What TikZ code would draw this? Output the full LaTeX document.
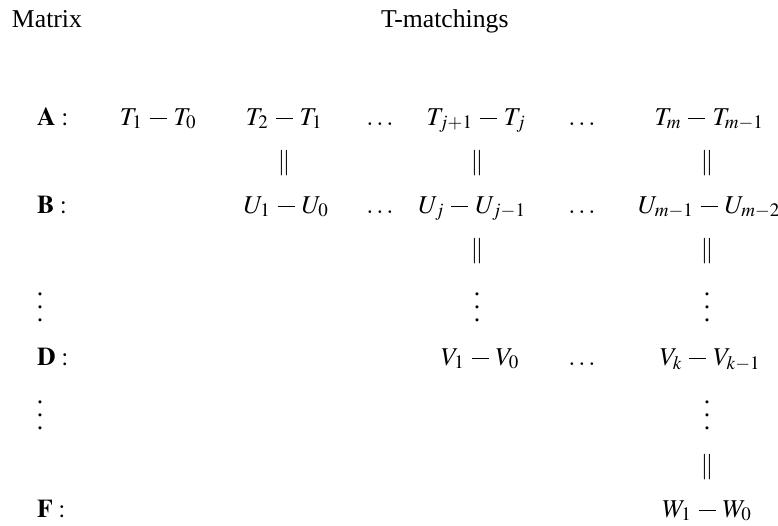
\documentclass[tikz,border=0pt]{standalone}
\usepackage{mathptmx}
\usepackage[no-math]{fontspec}
\setmainfont{Liberation Serif}
\medmuskip=5mu plus 2mu minus 4mu
\newcommand{\mn}{\mathbin{\rule[6pt]{17pt}{1.3pt}}}
\newcommand{\myvdots}{\mathord{\vbox{\baselineskip=13pt\lineskiplimit=0pt\kern4pt\hbox{.}\hbox{.}\hbox{.}}}}
\begin{document}
\begin{tikzpicture}[x=1pt,y=-1pt,
  every node/.style={inner sep=0pt,outer sep=0pt,font=\fontsize{25.7}{30}\selectfont},
  cell/.style={anchor=base},
  hdr/.style={anchor=base west}]
\useasboundingbox (0,0) rectangle (778,525);
% headers
\node[hdr] (hmatrix) at (12,27) {Matrix};
\node[hdr] (htm) at (381,27) {T-matchings};
% row A
\node[hdr] (la) at (37,125) {$\mathbf{A}:$};
\node[cell] (a1) at (158,125) {$T_1\mn T_0$};
\node[cell] (a2) at (284,125) {$T_2\mn T_1$};
\node[cell] (ad1) at (380,125) {$\dots$};
\node[cell] (a3) at (476,125) {$T_{j+1}\mn T_j$};
\node[cell] (ad2) at (582,125) {$\dots$};
\node[cell] (a4) at (709,125) {$T_m\mn T_{m-1}$};
% equals row 1
\node[cell] (e12) at (284,169) {$\|$};
\node[cell] (e13) at (477,169) {$\|$};
\node[cell] (e14) at (707,169) {$\|$};
% row B
\node[hdr] (lb) at (37,213) {$\mathbf{B}:$};
\node[cell] (b2) at (286,213) {$U_1\mn U_0$};
\node[cell] (bd1) at (380,213) {$\dots$};
\node[cell] (b3) at (472,213) {$U_j\mn U_{j-1}$};
\node[cell] (bd2) at (582,213) {$\dots$};
\node[cell] (b4) at (709,213) {$U_{m-1}\mn U_{m-2}$};
% equals row 2
\node[cell] (e23) at (477,257) {$\|$};
\node[cell] (e24) at (707,257) {$\|$};
% vdots row 1
\node[cell] (v10) at (40,321) {$\myvdots$};
\node[cell] (v13) at (477,321) {$\myvdots$};
\node[cell] (v14) at (707,321) {$\myvdots$};
% row D
\node[hdr] (ld) at (37,365) {$\mathbf{D}:$};
\node[cell] (d3) at (480,365) {$V_1\mn V_0$};
\node[cell] (dd) at (582,365) {$\dots$};
\node[cell] (d4) at (710,365) {$V_k\mn V_{k-1}$};
% vdots row 2
\node[cell] (v20) at (40,429) {$\myvdots$};
\node[cell] (v24) at (707,429) {$\myvdots$};
% equals row 3
\node[cell] (e34) at (707,473) {$\|$};
% row F
\node[hdr] (lf) at (37,517) {$\mathbf{F}:$};
\node[cell] (f4) at (707,517) {$W_1\mn W_0$};
\end{tikzpicture}
\end{document}
